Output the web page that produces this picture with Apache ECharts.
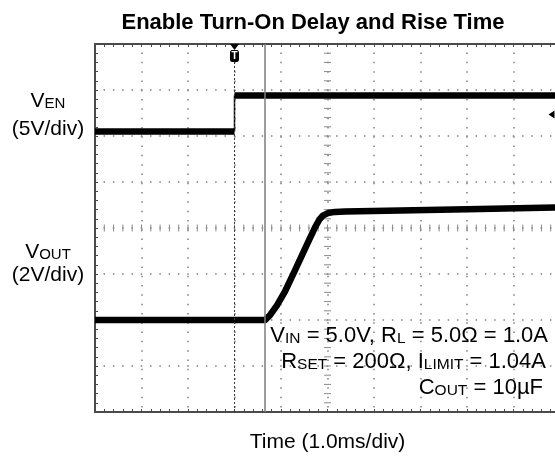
<!DOCTYPE html>
<html>
<head>
<meta charset="utf-8">
<script src="https://cdn.jsdelivr.net/npm/echarts@6/dist/echarts.min.js"></script>
<style>
  html, body { margin: 0; padding: 0; background: #ffffff; }
  #chart { width: 555px; height: 457px; }
</style>
</head>
<body>
<div id="chart"></div>
<script>
// Scope capture: enable pin (CH1) and regulator output (CH2), 1.0 ms/div.

// Horizontal: 10 divisions at 1.0 ms each
const timeDivisions = 10;
const msPerDiv = 1.0;
// Vertical: 8 divisions
const verticalDivisions = 8;
// Minor graticule marks per division
const minorPerDiv = 5;

// Enable channel, 5 V/div, ground reference at 6.1 div from bottom
const enableVoltsPerDiv = 5;
const enableGroundDiv = 6.1;
const enableTime = [0, 3.0, 3.0, 10];
const enableVolts = [0, 0, 3.9, 3.9];

// Output channel, 2 V/div, ground reference at 2 div from bottom
const outputVoltsPerDiv = 2;
const outputGroundDiv = 2;
const outputTime = [0, 3.66, 3.76, 3.91, 4.09, 4.26, 4.43, 4.60, 4.73, 4.82, 4.90, 5.01, 5.16, 5.38, 6.56, 8.28, 10];
const outputVolts = [0, 0, 0.20, 0.63, 1.26, 1.98, 2.72, 3.46, 4.02, 4.35, 4.54, 4.65, 4.70, 4.72, 4.76, 4.83, 4.89];

// Trigger point, trigger level and time cursor
const triggerMs = 3.0;
const triggerLevelVolts = 1.85;
const cursorMs = 3.66;

const FONT = "'Liberation Sans', Arial, Helvetica, sans-serif";
const BORDER = '#4a4a4a';
const DOT = '#808080';

// Thick trace segments break at vertical edges; edges are drawn thin.
function traceSegments(t, v) {
  const out = [];
  for (let i = 0; i < t.length; i++) {
    if (i > 0 && t[i] === t[i - 1]) out.push('-');
    out.push([t[i], v[i]]);
  }
  return out;
}
function traceEdges(t, v) {
  const out = [];
  for (let i = 1; i < t.length; i++) {
    if (t[i] === t[i - 1]) out.push([t[i - 1], v[i - 1]], [t[i], v[i]], '-');
  }
  return out;
}

const enMin = -enableGroundDiv * enableVoltsPerDiv;
const enMax = (verticalDivisions - enableGroundDiv) * enableVoltsPerDiv;
const outMin = -outputGroundDiv * outputVoltsPerDiv;
const outMax = (verticalDivisions - outputGroundDiv) * outputVoltsPerDiv;

const hidden = { show: false };
const borderTicks = {
  axisLine: { show: true, onZero: false, lineStyle: { color: BORDER, width: 2 } },
  axisTick: { show: true, inside: true, length: 3, lineStyle: { color: BORDER, width: 1 } },
  minorTick: { show: true, splitNumber: minorPerDiv, length: 3, lineStyle: { color: BORDER, width: 1 } },
  axisLabel: hidden
};

// Tick marks along the centre crosshair of the graticule
function renderCrosshair(params, api) {
  const cx = api.value(0);
  const cy = api.value(1);
  const half = 3.5;
  const style = { stroke: '#8a8a8a', lineWidth: 1 };
  const children = [];
  for (let k = 1; k < timeDivisions * minorPerDiv; k++) {
    const p = api.coord([k / minorPerDiv, cy]);
    children.push({ type: 'line', shape: { x1: p[0], y1: p[1] - half, x2: p[0], y2: p[1] + half }, style: style });
  }
  for (let k = 1; k < verticalDivisions * minorPerDiv; k++) {
    const p = api.coord([cx, k / minorPerDiv]);
    children.push({ type: 'line', shape: { x1: p[0] - half, y1: p[1], x2: p[0] + half, y2: p[1] }, style: style });
  }
  return { type: 'group', children: children };
}

const chart = echarts.init(document.getElementById('chart'), null, { renderer: 'canvas' });

const traceStyle = { color: '#000', width: 6.5, cap: 'butt', join: 'round' };

chart.setOption({
  animation: false,
  backgroundColor: '#ffffff',
  title: {
    text: 'Enable Turn-On Delay and Rise Time',
    left: 308,
    top: 7,
    textAlign: 'center',
    textStyle: { fontFamily: FONT, fontSize: 22, fontWeight: 'bold', color: '#000' }
  },
  grid: { left: 95, top: 44, width: 465, height: 368, outerBoundsMode: 'none', containLabel: false },
  xAxis: [
    Object.assign({
      type: 'value', min: 0, max: timeDivisions * msPerDiv, interval: msPerDiv, position: 'bottom',
      name: 'Time (1.0ms/div)', nameLocation: 'middle', nameGap: 20,
      nameTextStyle: { fontFamily: FONT, fontSize: 21, color: '#000' },
      splitLine: { show: true, lineStyle: { color: DOT, width: 1.5, type: [1.5, 7.8], dashOffset: 0.75 } }
    }, borderTicks),
    Object.assign({
      type: 'value', min: 0, max: timeDivisions * msPerDiv, interval: msPerDiv, position: 'top',
      splitLine: hidden
    }, borderTicks)
  ],
  yAxis: [
    Object.assign({
      type: 'value', min: 0, max: verticalDivisions, interval: 1, position: 'left',
      splitLine: { show: true, lineStyle: { color: DOT, width: 1.5, type: [1.5, 7.8], dashOffset: 0.75 } }
    }, borderTicks),
    { type: 'value', min: enMin, max: enMax, show: false, axisLine: { show: false, onZero: false } },
    { type: 'value', min: outMin, max: outMax, show: false, axisLine: { show: false, onZero: false } }
  ],
  series: [
    {
      name: 'graticule',
      type: 'custom',
      xAxisIndex: 0, yAxisIndex: 0,
      silent: true, z: 1,
      renderItem: renderCrosshair,
      data: [[timeDivisions / 2, verticalDivisions / 2]]
    },
    {
      name: 'VEN',
      type: 'line',
      xAxisIndex: 0, yAxisIndex: 1,
      showSymbol: false, symbol: 'none', connectNulls: false,
      lineStyle: traceStyle,
      data: traceSegments(enableTime, enableVolts),
      markLine: {
        silent: true, symbol: ['none', 'none'], label: hidden,
        lineStyle: { color: '#3a3a3a', width: 1, type: [2, 2] },
        data: [{ xAxis: triggerMs }]
      },
      markPoint: {
        silent: true,
        data: [
          { coord: [triggerMs, enMax], symbol: 'triangle', symbolRotate: 180, symbolSize: [9, 6],
            symbolOffset: [0, 3], itemStyle: { color: '#000' }, label: hidden },
          { coord: [triggerMs, enMax], symbol: 'roundRect', symbolSize: [9, 12],
            symbolOffset: [0, 12], itemStyle: { color: '#000' },
            label: { show: true, position: 'inside', formatter: 'T', color: '#fff',
                     fontFamily: FONT, fontSize: 10, fontWeight: 'bold' } },
          { coord: [timeDivisions * msPerDiv, triggerLevelVolts], symbol: 'triangle', symbolRotate: 90,
            symbolSize: [8, 6], symbolOffset: [-8.5, 0], itemStyle: { color: '#000' }, label: hidden }
        ]
      }
    },
    {
      name: 'VEN edge',
      type: 'line',
      xAxisIndex: 0, yAxisIndex: 1,
      showSymbol: false, symbol: 'none', connectNulls: false,
      lineStyle: { color: '#000', width: 1.5 },
      data: traceEdges(enableTime, enableVolts)
    },
    {
      name: 'VOUT',
      type: 'line',
      xAxisIndex: 0, yAxisIndex: 2,
      showSymbol: false, symbol: 'none',
      lineStyle: traceStyle,
      data: traceSegments(outputTime, outputVolts),
      markLine: {
        silent: true, symbol: ['none', 'none'], label: hidden,
        lineStyle: { color: '#7c7c7c', width: 1.5, type: 'solid' },
        data: [{ xAxis: cursorMs }]
      }
    }
  ],
  graphic: [
    channelLabel('{b|V}{s|EN}', 101),
    channelLabel('{b|(5V/div)}', 129),
    channelLabel('{b|V}{s|OUT}', 252),
    channelLabel('{b|(2V/div)}', 275),
    noteLine('{b|V}{s|IN}{b| = 5.0V, R}{s|L}{b| = 5.0Ω = 1.0A}', 548, 335.5),
    noteLine('{b|R}{s|SET}{b| = 200Ω, I}{s|LIMIT}{b| = 1.04A}', 546, 361.5),
    noteLine('{b|C}{s|OUT}{b| = 10µF}', 543, 387.5)
  ]
});

function richStyles(base, sub) {
  return {
    b: { fontFamily: FONT, fontSize: base, lineHeight: base, color: '#000', verticalAlign: 'bottom' },
    s: { fontFamily: FONT, fontSize: sub, lineHeight: sub, color: '#000', verticalAlign: 'bottom' }
  };
}
function channelLabel(text, y) {
  return {
    type: 'text', x: 48, y: y, silent: true,
    style: { text: text, rich: richStyles(21, 15), align: 'center', verticalAlign: 'middle' }
  };
}
function noteLine(text, x, y) {
  return {
    type: 'text', x: x, y: y, silent: true, z: 10,
    style: { text: text, rich: richStyles(22, 15.5), align: 'right', verticalAlign: 'middle' }
  };
}
</script>
</body>
</html>
